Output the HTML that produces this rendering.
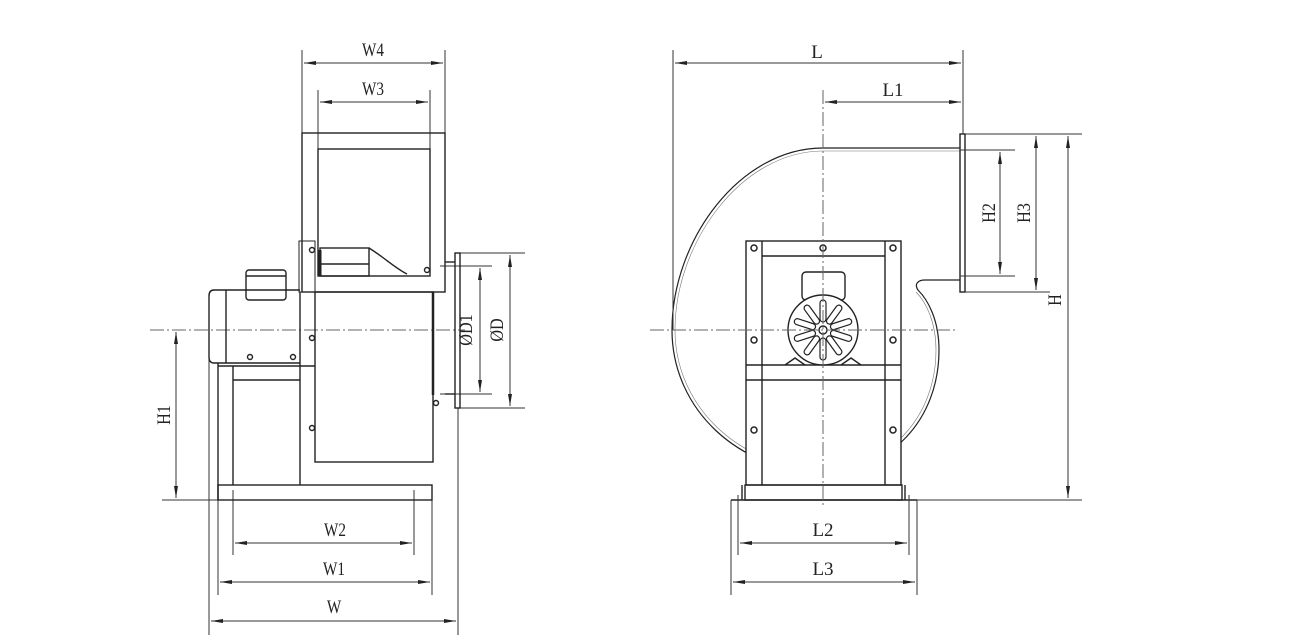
<!DOCTYPE html>
<html><head><meta charset="utf-8"><style>
html,body{margin:0;padding:0;background:#fff;}
svg{display:block;}
text{font-family:"Liberation Serif",serif;font-size:19px;fill:#222;font-weight:normal;}
</style></head><body>
<svg width="1289" height="643" viewBox="0 0 1289 643" xmlns="http://www.w3.org/2000/svg">
<defs>
<marker id="a" viewBox="0 0 12 4" refX="12" refY="2" markerWidth="12" markerHeight="4" orient="auto-start-reverse" markerUnits="userSpaceOnUse"><path d="M0,0 L12,2 L0,4 z" fill="#222"/></marker>
</defs>
<g stroke="#333" fill="none" stroke-width="1">
<line x1="302" y1="50" x2="302" y2="133"/><line x1="445" y1="50" x2="445" y2="133"/>
<line x1="304" y1="63" x2="443" y2="63" marker-start="url(#a)" marker-end="url(#a)"/>
<line x1="318" y1="90" x2="318" y2="149"/><line x1="430" y1="90" x2="430" y2="149"/>
<line x1="320" y1="102" x2="428" y2="102" marker-start="url(#a)" marker-end="url(#a)"/>
<line x1="460" y1="253" x2="525" y2="253"/><line x1="460" y1="408" x2="525" y2="408"/>
<line x1="440" y1="266" x2="492" y2="266"/><line x1="440" y1="394" x2="492" y2="394"/>
<line x1="480" y1="268" x2="480" y2="392" marker-start="url(#a)" marker-end="url(#a)"/>
<line x1="510" y1="255" x2="510" y2="406" marker-start="url(#a)" marker-end="url(#a)"/>
<line x1="162" y1="500" x2="218" y2="500"/>
<line x1="176" y1="332" x2="176" y2="498" marker-start="url(#a)" marker-end="url(#a)"/>
<line x1="150" y1="330" x2="465" y2="330" stroke-dasharray="14,3,2,3" stroke="#666"/>
<line x1="233" y1="490" x2="233" y2="555"/><line x1="414" y1="490" x2="414" y2="555"/>
<line x1="235" y1="543" x2="412" y2="543" marker-start="url(#a)" marker-end="url(#a)"/>
<line x1="218" y1="500" x2="218" y2="595"/><line x1="432" y1="500" x2="432" y2="595"/>
<line x1="220" y1="582" x2="430" y2="582" marker-start="url(#a)" marker-end="url(#a)"/>
<line x1="209" y1="300" x2="209" y2="635"/><line x1="458" y1="408" x2="458" y2="635"/>
<line x1="211" y1="621" x2="456" y2="621" marker-start="url(#a)" marker-end="url(#a)"/>
</g>
<g stroke="#222" fill="none" stroke-width="1.4">
<rect x="302" y="133" width="143" height="159"/>
<rect x="318" y="149" width="112" height="127"/>
<rect x="299" y="241" width="16" height="51" stroke-width="1"/>
<rect x="320" y="248" width="49" height="28"/>
<line x1="320" y1="264" x2="369" y2="264"/>
<path d="M369,248 C385,258 395,268 407,274"/>
<line x1="320" y1="250" x2="320" y2="276" stroke-width="3"/>
<circle cx="427" cy="270" r="2.5"/><circle cx="312" cy="250" r="2.5"/>
<rect x="315" y="292" width="118" height="170"/>
<line x1="433" y1="292" x2="433" y2="395" stroke-width="2.5"/>
<line x1="445" y1="262" x2="455" y2="262"/><line x1="445" y1="394" x2="455" y2="394"/>
<rect x="455" y="253" width="5" height="155"/>
<circle cx="436" cy="403" r="2.5"/><circle cx="312" cy="338" r="2.5"/><circle cx="312" cy="428" r="2.5"/>
<path d="M300,290 L214,290 Q209,290 209,296 L209,357 Q209,363 214,363 L300,363"/>
<line x1="226" y1="290" x2="226" y2="363"/>
<rect x="246" y="270" width="40" height="30" rx="3"/>
<line x1="246" y1="276" x2="286" y2="276"/>
<circle cx="250" cy="357" r="2.5"/><circle cx="293" cy="357" r="2.5"/>
<line x1="218" y1="363" x2="218" y2="500"/><line x1="233" y1="366" x2="233" y2="485"/>
<line x1="300" y1="292" x2="300" y2="485"/>
<line x1="218" y1="366" x2="315" y2="366"/><line x1="233" y1="380" x2="300" y2="380"/>
<rect x="218" y="485" width="214" height="15"/>
<path d="M960,148 L823,148 C740,148 672,240 672,330 C672,410 740,472 823,472 C890,472 939,420 939,350 C939,320 928,300 918,290 C914,284 918,280 925,280 L960,280" stroke-width="1.2"/>
<path d="M960,151 L823,151 C742,151 675,242 675,330 C675,408 742,469 823,469 C888,469 936,418 936,350 C936,322 926,302 916,292" stroke-width="0.6" stroke="#777"/>
<rect x="960" y="134" width="5" height="158"/>
<rect x="746" y="241" width="155" height="244" fill="#fff"/>
<line x1="762" y1="241" x2="762" y2="485"/><line x1="885" y1="241" x2="885" y2="485"/>
<line x1="762" y1="256" x2="885" y2="256"/>
<line x1="746" y1="365" x2="901" y2="365"/><line x1="746" y1="380" x2="901" y2="380"/>
<rect x="802" y="272" width="43" height="28" rx="4" fill="#fff"/>
<circle cx="823" cy="330" r="35" fill="#fff"/>
<circle cx="823" cy="330" r="4"/>
<g stroke-width="1.2">
<g id="sl"><rect x="820" y="300" width="6" height="22" rx="3"/></g>
<use href="#sl" transform="rotate(36 823 330)"/><use href="#sl" transform="rotate(72 823 330)"/>
<use href="#sl" transform="rotate(108 823 330)"/><use href="#sl" transform="rotate(144 823 330)"/>
<use href="#sl" transform="rotate(180 823 330)"/><use href="#sl" transform="rotate(216 823 330)"/>
<use href="#sl" transform="rotate(252 823 330)"/><use href="#sl" transform="rotate(288 823 330)"/>
<use href="#sl" transform="rotate(324 823 330)"/>
</g>
<path d="M785,365 L795,358 L805,365 M841,365 L851,358 L861,365"/>
<g stroke-width="1.5"><circle cx="754" cy="248" r="3"/><circle cx="823" cy="248" r="3"/><circle cx="893" cy="248" r="3"/>
<circle cx="754" cy="340" r="3"/><circle cx="893" cy="340" r="3"/><circle cx="754" cy="430" r="3"/><circle cx="893" cy="430" r="3"/></g>
<rect x="745" y="485" width="157" height="15"/>
<line x1="731" y1="500" x2="917" y2="500"/>
<line x1="742" y1="485" x2="742" y2="500"/><line x1="905" y1="485" x2="905" y2="500"/>
</g>
<g stroke="#333" fill="none" stroke-width="1">
<line x1="650" y1="330" x2="955" y2="330" stroke-dasharray="14,3,2,3" stroke="#666"/>
<line x1="823" y1="90" x2="823" y2="505" stroke-dasharray="14,3,2,3" stroke="#666"/>
<line x1="673" y1="50" x2="673" y2="330"/><line x1="963" y1="50" x2="963" y2="134"/>
<line x1="675" y1="63" x2="961" y2="63" marker-start="url(#a)" marker-end="url(#a)"/>
<line x1="825" y1="102" x2="961" y2="102" marker-start="url(#a)" marker-end="url(#a)"/>
<line x1="965" y1="134" x2="1082" y2="134"/><line x1="965" y1="292" x2="1050" y2="292"/>
<line x1="960" y1="150" x2="1015" y2="150"/><line x1="960" y1="276" x2="1015" y2="276"/>
<line x1="1000" y1="152" x2="1000" y2="274" marker-start="url(#a)" marker-end="url(#a)"/>
<line x1="1036" y1="136" x2="1036" y2="290" marker-start="url(#a)" marker-end="url(#a)"/>
<line x1="1068" y1="136" x2="1068" y2="498" marker-start="url(#a)" marker-end="url(#a)"/>
<line x1="917" y1="500" x2="1082" y2="500"/>
<line x1="738" y1="495" x2="738" y2="555"/><line x1="909" y1="495" x2="909" y2="555"/>
<line x1="740" y1="543" x2="907" y2="543" marker-start="url(#a)" marker-end="url(#a)"/>
<line x1="731" y1="500" x2="731" y2="595"/><line x1="917" y1="500" x2="917" y2="595"/>
<line x1="733" y1="582" x2="915" y2="582" marker-start="url(#a)" marker-end="url(#a)"/>
</g>
<g text-anchor="middle">
<text x="373" y="56" transform="translate(373 0) scale(0.8 1) translate(-373 0)">W4</text>
<text x="373" y="95" transform="translate(373 0) scale(0.8 1) translate(-373 0)">W3</text>
<text x="335" y="536" transform="translate(335 0) scale(0.8 1) translate(-335 0)">W2</text>
<text x="334" y="575" transform="translate(334 0) scale(0.8 1) translate(-334 0)">W1</text>
<text x="334" y="613" transform="translate(334 0) scale(0.8 1) translate(-334 0)">W</text>
<text x="817" y="58">L</text>
<text x="893" y="96">L1</text>
<text x="823" y="536">L2</text>
<text x="823" y="575">L3</text>
<text transform="translate(170 415) rotate(-90) scale(0.85 1)">H1</text>
<text transform="translate(472 330) rotate(-90) scale(0.85 1)">ØD1</text>
<text transform="translate(503 330) rotate(-90) scale(0.85 1)">ØD</text>
<text transform="translate(995 213) rotate(-90) scale(0.85 1)">H2</text>
<text transform="translate(1030 213) rotate(-90) scale(0.85 1)">H3</text>
<text transform="translate(1061 300) rotate(-90) scale(0.85 1)">H</text>
</g>
</svg>
</body></html>
